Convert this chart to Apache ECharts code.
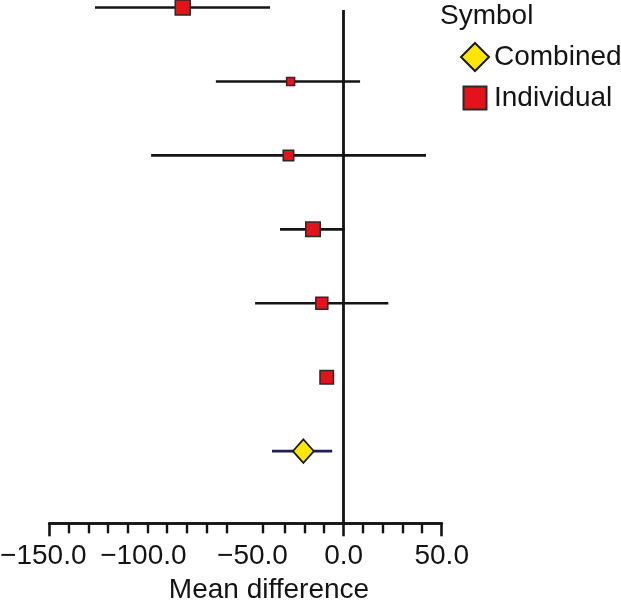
<!DOCTYPE html>
<html>
<head>
<meta charset="utf-8">
<script src="https://cdn.jsdelivr.net/npm/echarts@6/dist/echarts.min.js"></script>
<style>html,body{margin:0;padding:0;background:#fff}#chart{width:621px;height:600px}</style>
</head>
<body>
<div id="chart"></div>
<script>
// ---- data ----
const individualRow   = [1, 2, 3, 4, 5, 6];
const individualMean  = [-82.0, -27.0, -28.1, -15.6, -11.1, -8.6];
const individualLower = [-126.7, -65.1, -98.1, -32.4, -45.1, -10.6];
const individualUpper = [-37.5, 8.4, 42.0, 0.6, 22.8, -6.6];
const individualWeight = [15, 8, 10.5, 14.5, 12, 13.5];

const combinedRow   = [7];
const combinedMean  = [-20.5];
const combinedLower = [-36.5];
const combinedUpper = [-5.8];
const combinedWeight = [22];

const xTickLabels = [-150, -100, -50, 0, 50];
const xMajorTicks = [-150, 0, 50];
const xMinorTicks = [-140, -130, -120, -110, -100, -90, -80, -70, -59.5, -41, -30, -20, -10, 10, 20, 30, 40];

// ---- build chart ----
const FONT = "'Liberation Sans', Arial, sans-serif";
const INK = '#141414';

const indScatter = individualRow.map((r, i) => [individualMean[i], r, individualWeight[i]]);
const indBars = individualRow.map((r, i) => [individualLower[i], individualUpper[i], r]);
const comScatter = combinedRow.map((r, i) => [combinedMean[i], r, combinedWeight[i]]);
const comBars = combinedRow.map((r, i) => [combinedLower[i], combinedUpper[i], r]);

const fmt = v => (v < 0 ? '\u2212' : '') + Math.abs(v).toFixed(1);
const labelShiftStyle = { '-150': 'l6', '-100': 'l4', '-50': 'r7' };

function barRenderer(color) {
  return function (params, api) {
    const p1 = api.coord([api.value(0), api.value(2)]);
    const p2 = api.coord([api.value(1), api.value(2)]);
    return {
      type: 'line',
      shape: { x1: p1[0], y1: p1[1], x2: p2[0], y2: p2[1] },
      style: { stroke: color, lineWidth: 2.6 }
    };
  };
}

const labelText = { fontSize: 28, fontFamily: FONT, color: INK };

const option = {
  animation: false,
  backgroundColor: '#ffffff',
  textStyle: { fontFamily: FONT },
  title: {
    text: 'Symbol',
    left: 440, top: 2, padding: 0,
    textStyle: { fontSize: 28, fontWeight: 'normal', color: INK, fontFamily: FONT }
  },
  legend: {
    orient: 'vertical',
    left: 455, top: 37,
    itemWidth: 28, itemHeight: 28, itemGap: 11,
    textStyle: { fontSize: 28, color: INK, fontFamily: FONT },
    data: [
      { name: 'Combined', icon: 'diamond' },
      { name: 'Individual', icon: 'path://M0,0M28,28M2.5,2.5h23v23h-23z' }
    ]
  },
  grid: { left: 49.3, right: 179.3, top: 10, bottom: 76.7, containLabel: false, outerBoundsMode: 'none' },
  xAxis: [
    {
      type: 'value', min: -150, max: 50, interval: 10, position: 'bottom',
      axisLine: { show: true, onZero: false, lineStyle: { color: INK, width: 2.6 } },
      axisTick: { show: true, length: 10, customValues: xMinorTicks, lineStyle: { color: INK, width: 2.4 } },
      axisLabel: { show: false },
      splitLine: { show: false }
    },
    {
      type: 'value', min: -150, max: 50, interval: 50, position: 'bottom',
      axisLine: { show: true, onZero: false, lineStyle: { color: INK, width: 2.6 } },
      axisTick: { show: true, length: 13, customValues: xMajorTicks, lineStyle: { color: INK, width: 2.6 } },
      axisLabel: {
        show: true, margin: 19, customValues: xTickLabels,
        fontSize: 28, color: INK, fontFamily: FONT,
        formatter: v => {
          const k = labelShiftStyle[String(v)];
          return k ? '{' + k + '|' + fmt(v) + '}' : fmt(v);
        },
        rich: {
          l6: Object.assign({ padding: [0, 12, 0, 0] }, labelText),
          l4: Object.assign({ padding: [0, 8, 0, 0] }, labelText),
          r7: Object.assign({ padding: [0, 0, 0, 14] }, labelText)
        }
      },
      splitLine: { show: false },
      name: 'Mean difference',
      nameLocation: 'middle',
      nameGap: 53,
      nameTextStyle: { fontSize: 28, color: INK, fontFamily: FONT, padding: [0, 0, 0, 47] }
    }
  ],
  yAxis: {
    type: 'value', inverse: true, min: 1.0338, max: 7.9756, show: false
  },
  series: [
    {
      name: 'Individual CI', type: 'custom', xAxisIndex: 0, clip: false, z: 2,
      renderItem: barRenderer(INK),
      encode: { x: [0, 1], y: 2 },
      data: indBars,
      markLine: {
        silent: true, symbol: 'none', label: { show: false },
        lineStyle: { color: INK, width: 2.8, type: 'solid' },
        data: [{ xAxis: 0 }]
      }
    },
    {
      name: 'Combined CI', type: 'custom', xAxisIndex: 0, clip: false, z: 2,
      renderItem: barRenderer('#1f1f5c'),
      encode: { x: [0, 1], y: 2 },
      data: comBars
    },
    {
      name: 'Individual', type: 'scatter', xAxisIndex: 0, clip: false, z: 4,
      symbol: 'rect',
      symbolSize: d => d[2],
      itemStyle: { color: '#e3121b', borderColor: '#2a2a2a', borderWidth: 1.5, opacity: 1 },
      data: indScatter
    },
    {
      name: 'Combined', type: 'scatter', xAxisIndex: 0, clip: false, z: 4,
      symbol: 'diamond',
      symbolSize: d => [d[2] * 0.95, d[2] * 1.07],
      itemStyle: { color: '#ffe600', borderColor: '#1a1a1a', borderWidth: 1.8, opacity: 1 },
      data: comScatter
    }
  ]
};

const chart = echarts.init(document.getElementById('chart'), null, { renderer: 'canvas' });
chart.setOption(option);
</script>
</body>
</html>
